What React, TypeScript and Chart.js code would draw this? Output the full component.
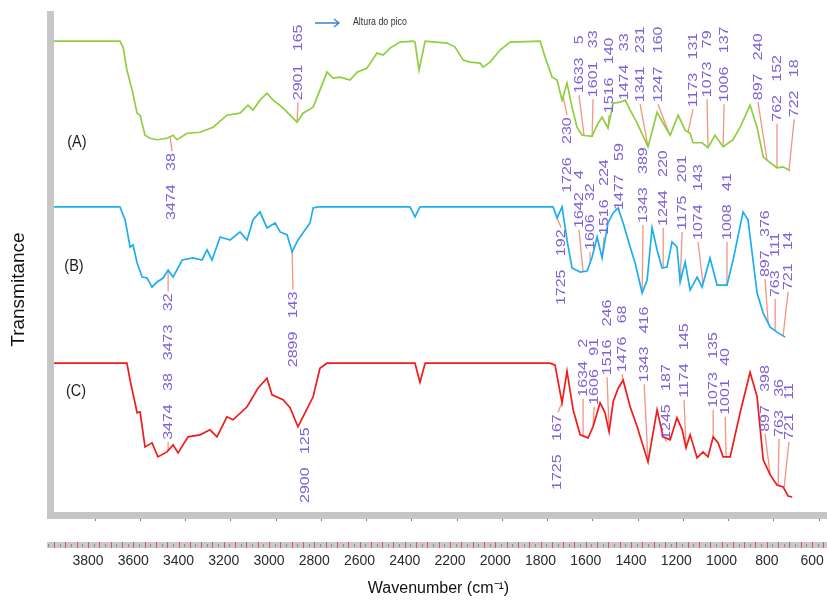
import React, { useEffect, useRef } from 'react';
import { Chart, registerables } from 'chart.js';

Chart.register(...registerables);

// Labelled wavenumber ticks of the bottom axis (cm-1)
const WAVENUMBER_TICKS = [3800, 3600, 3400, 3200, 3000, 2800, 2600, 2400, 2200, 2000, 1800, 1600, 1400, 1200, 1000, 800, 600];

// Spectrum (A) - green
const SPECTRUM_A_WN = [3981, 3690, 3676, 3659, 3636, 3614, 3601, 3579, 3557, 3526, 3482, 3455, 3438, 3393, 3336, 3278, 3217, 3159, 3124, 3102, 3071, 3040, 3013, 2973, 2938, 2907, 2881, 2836, 2806, 2775, 2748, 2717, 2673, 2642, 2598, 2554, 2527, 2496, 2452, 2394, 2386, 2368, 2341, 2244, 2209, 2173, 2142, 2098, 2085, 2054, 2010, 1966, 1833, 1811, 1780, 1758, 1736, 1714, 1692, 1670, 1647, 1603, 1577, 1559, 1533, 1510, 1479, 1457, 1435, 1404, 1356, 1316, 1289, 1258, 1223, 1192, 1170, 1157, 1117, 1091, 1060, 1024, 980, 949, 905, 874, 847, 816, 786, 759, 728];
const SPECTRUM_A_T = [94.6, 94.6, 93.4, 88.8, 84.8, 80.2, 79.8, 75.8, 75.2, 74.9, 75.2, 75.8, 74.9, 76.2, 76.4, 77.4, 79.8, 80.2, 81.8, 80.8, 82.8, 84.2, 82.8, 81.4, 79.8, 78.4, 80.2, 81.4, 84.8, 88.4, 87.2, 87.4, 86.8, 88.4, 89.2, 92.2, 91.8, 93.2, 94.4, 94.6, 94.4, 88.8, 94.6, 94.2, 93.4, 90.8, 90.4, 90.2, 89.4, 90.4, 92.8, 94.4, 94.6, 91.4, 87.4, 86.8, 82.8, 86.2, 81.4, 77.4, 75.8, 75.6, 78.2, 79.4, 77.2, 82.2, 82.4, 82.8, 80.8, 78.2, 73.5, 80.4, 78.2, 75.8, 79.8, 76.8, 76.2, 74.3, 74.3, 73.3, 75.8, 73.5, 74.9, 77.4, 81.8, 77.4, 71.5, 70.3, 69.3, 69.5, 68.7];

// Spectrum (B) - blue
const SPECTRUM_B_WN = [3981, 3690, 3667, 3645, 3632, 3614, 3592, 3570, 3548, 3526, 3499, 3477, 3455, 3415, 3367, 3327, 3305, 3283, 3247, 3203, 3159, 3128, 3102, 3071, 3040, 3004, 2982, 2951, 2929, 2903, 2872, 2850, 2836, 2814, 2408, 2386, 2364, 1776, 1758, 1736, 1714, 1692, 1656, 1625, 1603, 1581, 1559, 1533, 1510, 1488, 1466, 1435, 1413, 1382, 1360, 1338, 1316, 1294, 1272, 1250, 1228, 1214, 1192, 1170, 1139, 1117, 1082, 1051, 1007, 980, 936, 914, 874, 847, 816, 786, 750];
const SPECTRUM_B_T = [61.5, 61.5, 58.9, 53.5, 53.9, 50.3, 47.5, 47.3, 45.5, 46.5, 47.3, 48.9, 47.5, 50.9, 51.3, 50.9, 52.9, 50.9, 55.5, 54.9, 56.5, 54.9, 58.9, 60.5, 57.3, 58.3, 56.5, 55.9, 52.5, 54.9, 56.9, 58.3, 61.3, 61.5, 61.5, 59.5, 61.5, 61.5, 59.3, 61.5, 54.9, 49.3, 48.5, 48.7, 51.5, 55.5, 51.3, 58.3, 60.3, 61.3, 58.3, 53.5, 50.3, 44.3, 46.9, 57.3, 52.9, 49.3, 49.5, 54.5, 53.5, 46.5, 50.5, 44.9, 47.5, 45.5, 51.3, 45.9, 45.9, 50.9, 60.5, 58.9, 44.3, 40.3, 37.5, 36.5, 35.5];

// Spectrum (C) - red
const SPECTRUM_C_WN = [3981, 3659, 3645, 3614, 3601, 3579, 3548, 3522, 3482, 3455, 3433, 3389, 3336, 3292, 3261, 3217, 3190, 3128, 3080, 3040, 3018, 2969, 2938, 2903, 2881, 2836, 2806, 2775, 2386, 2364, 2341, 1789, 1767, 1736, 1714, 1687, 1656, 1621, 1599, 1568, 1546, 1528, 1510, 1488, 1466, 1435, 1404, 1356, 1316, 1289, 1258, 1228, 1205, 1188, 1170, 1139, 1113, 1091, 1068, 1046, 1024, 993, 949, 905, 874, 847, 816, 786, 759, 737, 719];
const SPECTRUM_C_T = [30.3, 30.3, 26.9, 20.4, 20.6, 13.6, 14.4, 11.6, 12.6, 14.0, 12.4, 15.6, 16.0, 17.0, 15.6, 19.6, 19.0, 21.6, 25.3, 27.3, 24.0, 23.0, 21.4, 17.6, 19.6, 23.6, 29.3, 30.3, 30.3, 26.5, 30.3, 30.3, 29.9, 22.4, 28.7, 21.0, 16.0, 15.4, 17.6, 22.4, 20.4, 16.6, 22.6, 25.3, 26.9, 21.6, 17.6, 10.6, 21.0, 15.6, 15.0, 19.4, 17.0, 13.4, 16.0, 11.4, 12.6, 11.6, 15.6, 14.4, 11.6, 11.6, 20.4, 28.5, 23.6, 11.0, 8.0, 6.0, 5.6, 3.8, 3.6];

// Peak annotations: peak wavenumber text, peak height text,
// label column (wavenumber), label foot (transmittance), point on the curve (wavenumber)
const PEAK_WN_A = ['3474', '2901', '1726', '1633', '1601', '1516', '1474', '1341', '1247', '1173', '1073', '1006', '897', '762', '722'];
const PEAK_H_A = ['38', '165', '230', '5', '33', '140', '33', '231', '160', '131', '79', '137', '240', '152', '18'];
const LABEL_WN_A = [3460, 2903, 1714, 1661, 1599, 1528, 1462, 1391, 1312, 1157, 1095, 1020, 870, 786, 710];
const LABEL_FOOT_A = [58.9, 82.8, 64.3, 84.2, 83.4, 80.2, 82.8, 82.4, 82.4, 81.4, 83.4, 82.4, 82.8, 78.5, 79.4];
const MARK_WN_A = [3468, 2907, 1731, 1639, 1603, 1533, 1471, 1356, 1263, 1179, 1091, 1024, 830, 786, 733];

const PEAK_WN_B = ['3473', '2899', '1725', '1642', '1606', '1516', '1477', '1343', '1244', '1175', '1074', '1008', '897', '763', '721'];
const PEAK_H_B = ['32', '143', '192', '4', '32', '224', '59', '389', '220', '201', '143', '41', '376', '111', '14'];
const LABEL_WN_B = [3477, 2925, 1740, 1661, 1612, 1550, 1484, 1378, 1289, 1205, 1135, 1007, 839, 794, 737];
const LABEL_FOOT_B = [30.9, 29.5, 41.9, 57.3, 52.9, 55.9, 60.9, 58.3, 57.7, 56.9, 54.9, 54.9, 47.5, 43.5, 44.9];
const MARK_WN_B = [3477, 2929, 1758, 1643, 1612, 1559, 1488, 1382, 1289, 1214, 1113, 1007, 825, 794, 759];

const PEAK_WN_C = ['3474', '2900', '1725', '1634', '1606', '1516', '1476', '1343', '1245', '1174', '1073', '1001', '897', '763', '721'];
const PEAK_H_C = ['38', '125', '167', '2', '91', '246', '68', '416', '187', '145', '135', '40', '398', '36', '11'];
const LABEL_WN_C = [3477, 2872, 1754, 1643, 1594, 1537, 1471, 1373, 1276, 1197, 1068, 1015, 839, 777, 733];
const LABEL_FOOT_C = [15.0, 2.4, 5.0, 23.6, 22.0, 27.9, 28.5, 26.5, 15.0, 23.4, 21.4, 20.0, 16.6, 15.6, 15.0];
const MARK_WN_C = [3477, 2898, 1736, 1643, 1599, 1528, 1466, 1356, 1281, 1188, 1068, 1011, 816, 781, 755];

// Series tags "(A)", "(B)", "(C)"
const SERIES_TAGS = ['(A)', '(B)', '(C)'];
const SERIES_TAG_WN = [3880, 3893, 3884];
const SERIES_TAG_T = [74.3, 49.7, 24.6];

const Y_TITLE = 'Transmitance';
const X_TITLE = 'Wavenumber (cm\u207B\u00B9)';
const LEGEND_TEXT = 'Altura do pico';

const SANS = "'Liberation Sans', Arial, sans-serif";
const LABEL_COLOR = '#8061d6';
const MARK_COLOR = '#f3957f';

const SERIES = [
  { name: 'A', wn: SPECTRUM_A_WN, t: SPECTRUM_A_T, color: '#8dcf3f', peaks: PEAK_WN_A, heights: PEAK_H_A, labelWn: LABEL_WN_A, labelFoot: LABEL_FOOT_A, markWn: MARK_WN_A },
  { name: 'B', wn: SPECTRUM_B_WN, t: SPECTRUM_B_T, color: '#1daef0', peaks: PEAK_WN_B, heights: PEAK_H_B, labelWn: LABEL_WN_B, labelFoot: LABEL_FOOT_B, markWn: MARK_WN_B },
  { name: 'C', wn: SPECTRUM_C_WN, t: SPECTRUM_C_T, color: '#f21a1a', peaks: PEAK_WN_C, heights: PEAK_H_C, labelWn: LABEL_WN_C, labelFoot: LABEL_FOOT_C, markWn: MARK_WN_C },
];

function interp(wn: number[], t: number[], v: number): number {
  for (let i = 0; i < wn.length - 1; i++) {
    const a = wn[i];
    const b = wn[i + 1];
    if (v <= a && v >= b) {
      const f = (a - v) / (a - b);
      return t[i] + f * (t[i + 1] - t[i]);
    }
  }
  return v > wn[0] ? t[0] : t[t.length - 1];
}

const LABEL_FONT = `16px ${SANS}`;
const LABEL_THIN = 0.8;

function labelText(p: string, h: string) {
  return `${p}   ${h}`;
}

// draw text squeezed horizontally (the reference uses a condensed face)
function condensedText(ctx: any, text: string, x: number, y: number, sx: number) {
  ctx.save();
  ctx.translate(x, y);
  ctx.scale(sx, 1);
  ctx.fillText(text, 0, 0);
  ctx.restore();
}

const decorPlugin = {
  id: 'ftirDecor',
  beforeDatasetsDraw(chart: any) {
    const ctx = chart.ctx;
    const xs = chart.scales.x;
    const ys = chart.scales.y;
    ctx.save();
    ctx.font = LABEL_FONT;
    ctx.strokeStyle = MARK_COLOR;
    ctx.lineWidth = 1.3;
    SERIES.forEach((s) => {
      s.peaks.forEach((p, i) => {
        const w = ctx.measureText(labelText(p, s.heights[i])).width;
        const lx = xs.getPixelForValue(s.labelWn[i]);
        const foot = ys.getPixelForValue(s.labelFoot[i]);
        const head = foot - w;
        const mx = xs.getPixelForValue(s.markWn[i]);
        const my = ys.getPixelForValue(interp(s.wn, s.t, s.markWn[i]));
        const above = (foot + head) / 2 < my;
        const ay = above ? foot + 2 : head - 2;
        if (Math.abs(ay - my) < 2) return;
        ctx.beginPath();
        ctx.moveTo(lx, ay);
        ctx.lineTo(mx, my);
        ctx.stroke();
      });
    });
    ctx.restore();
  },
  afterDatasetsDraw(chart: any) {
    const ctx = chart.ctx;
    const xs = chart.scales.x;
    const ys = chart.scales.y;
    ctx.save();
    ctx.font = LABEL_FONT;
    ctx.fillStyle = LABEL_COLOR;
    ctx.textAlign = 'left';
    ctx.textBaseline = 'middle';
    SERIES.forEach((s) => {
      s.peaks.forEach((p, i) => {
        const lx = xs.getPixelForValue(s.labelWn[i]);
        const foot = ys.getPixelForValue(s.labelFoot[i]);
        ctx.save();
        ctx.translate(lx, foot);
        ctx.rotate(-Math.PI / 2);
        ctx.scale(1, LABEL_THIN);
        ctx.fillText(labelText(p, s.heights[i]), 0, 0);
        ctx.restore();
      });
    });
    // series tags
    ctx.font = `17px ${SANS}`;
    ctx.fillStyle = '#1a1a1a';
    ctx.textAlign = 'center';
    SERIES_TAGS.forEach((tag, i) => {
      condensedText(ctx, tag, xs.getPixelForValue(SERIES_TAG_WN[i]), ys.getPixelForValue(SERIES_TAG_T[i]), 0.85);
    });
    ctx.restore();
  },
  afterDraw(chart: any) {
    const ctx = chart.ctx;
    const area = chart.chartArea;
    const x2 = chart.scales.x2;
    ctx.save();
    // ticks on the wavenumber strip
    const top = x2.top;
    for (let v = 525; v <= 3975; v += 25) {
      const px = x2.getPixelForValue(v);
      if (px < x2.left - 4 || px > x2.right) continue;
      ctx.beginPath();
      if (v % 50 === 0) {
        ctx.strokeStyle = '#e2565a';
        ctx.moveTo(Math.round(px) + 0.5, top - 3);
        ctx.lineTo(Math.round(px) + 0.5, top + 3);
      } else {
        ctx.strokeStyle = '#8a8a8a';
        ctx.moveTo(Math.round(px) + 0.5, top - 1);
        ctx.lineTo(Math.round(px) + 0.5, top + 2);
      }
      ctx.lineWidth = 1;
      ctx.stroke();
    }
    // y title
    ctx.save();
    ctx.font = `19px ${SANS}`;
    ctx.fillStyle = '#111';
    ctx.textAlign = 'center';
    ctx.textBaseline = 'middle';
    ctx.translate(area.left - 31, area.top + (area.bottom - area.top) * 0.55);
    ctx.rotate(-Math.PI / 2);
    ctx.fillText(Y_TITLE, 0, 0);
    ctx.restore();
    // legend: arrow + text
    const ax0 = area.left + 265;
    const ax1 = area.left + 289;
    const ay = area.top + 9;
    ctx.strokeStyle = '#3f7fd0';
    ctx.lineWidth = 1.3;
    ctx.beginPath();
    ctx.moveTo(ax0, ay);
    ctx.lineTo(ax1, ay);
    ctx.moveTo(ax1 - 5, ay - 4);
    ctx.lineTo(ax1, ay);
    ctx.lineTo(ax1 - 5, ay + 4);
    ctx.stroke();
    ctx.font = `11px ${SANS}`;
    ctx.fillStyle = '#333';
    ctx.textAlign = 'left';
    ctx.textBaseline = 'middle';
    condensedText(ctx, LEGEND_TEXT, area.left + 303, ay - 1, 0.8);
    ctx.restore();
  },
};

export default function App() {
  const ref = useRef<HTMLCanvasElement | null>(null);
  useEffect(() => {
    if (!ref.current) return;
    const chart = new Chart(ref.current, {
      type: 'line',
      data: {
        datasets: SERIES.map((s) => ({
          label: s.name,
          data: s.wn.map((w, i) => ({ x: w, y: s.t[i] })),
          borderColor: s.color,
          backgroundColor: s.color,
          borderWidth: 1.7,
          pointRadius: 0,
          tension: 0,
          fill: false,
          xAxisID: 'x',
          yAxisID: 'y',
        })),
      },
      options: {
        responsive: false,
        animation: false,
        devicePixelRatio: 1,
        layout: { padding: { top: 14, left: 0, right: 0, bottom: 0 } },
        plugins: { legend: { display: false }, tooltip: { enabled: false } },
        scales: {
          x: {
            type: 'linear',
            position: 'bottom',
            reverse: true,
            min: 565,
            max: 3999,
            weight: 0,
            afterBuildTicks: (s: any) => {
              s.ticks = WAVENUMBER_TICKS.map((v) => ({ value: v }));
            },
            afterFit: (s: any) => {
              s.height = 30;
              s.paddingLeft = 0;
              s.paddingRight = 0;
            },
            ticks: { display: false },
            grid: { display: true, drawOnChartArea: false, drawTicks: true, tickLength: 6, color: '#e8584a', lineWidth: 1 },
            border: { display: true, color: '#c6c6c6', width: 7 },
          },
          x2: {
            type: 'linear',
            position: 'bottom',
            reverse: true,
            min: 534,
            max: 3968,
            weight: 1,
            afterBuildTicks: (s: any) => {
              s.ticks = WAVENUMBER_TICKS.map((v) => ({ value: v }));
            },
            afterFit: (s: any) => {
              s.height = 62;
              s.paddingLeft = 0;
              s.paddingRight = 0;
            },
            ticks: {
              autoSkip: false,
              maxRotation: 0,
              padding: 8,
              color: '#2a2a2a',
              font: { family: SANS, size: 14 },
              callback: (v: any) => String(v),
            },
            grid: { display: false, drawTicks: false },
            border: { display: true, color: '#c9c9c9', width: 6 },
            title: {
              display: true,
              text: X_TITLE,
              color: '#111',
              font: { family: SANS, size: 16 },
              padding: { top: 0, bottom: 9 },
            },
          },
          y: {
            type: 'linear',
            position: 'left',
            min: 0,
            max: 100,
            afterFit: (s: any) => {
              s.width = 50;
              s.paddingTop = 0;
              s.paddingBottom = 0;
            },
            ticks: { display: false },
            grid: { display: false, drawTicks: false },
            border: { display: true, color: '#c6c6c6', width: 7 },
          },
        },
      },
      plugins: [decorPlugin],
    } as any);
    return () => chart.destroy();
  }, []);
  return (
    <div style={{ position: 'absolute', left: 0, top: 0, width: 827, height: 607, background: '#fff' }}>
      <canvas ref={ref} width={827} height={607} style={{ display: 'block', width: 827, height: 607 }} />
    </div>
  );
}
